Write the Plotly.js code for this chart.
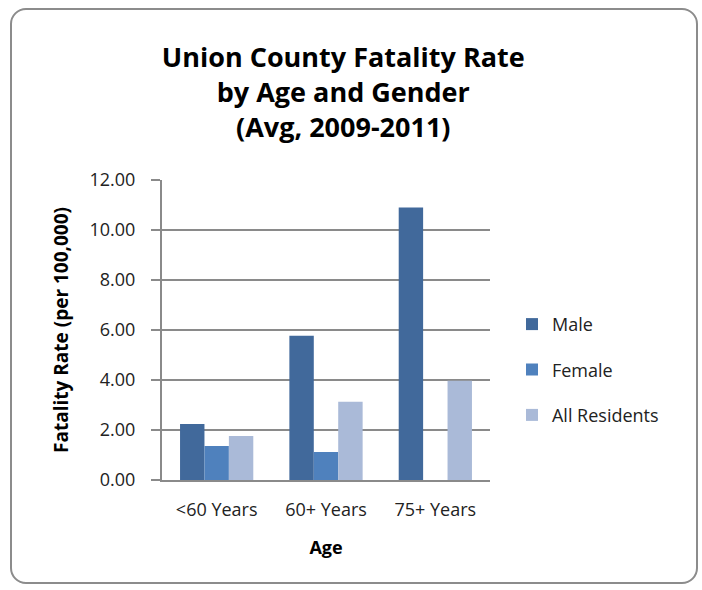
<!DOCTYPE html>
<html>
<head>
<meta charset="utf-8">
<script src="https://cdn.plot.ly/plotly-3.0.1.min.js"></script>
<style>
  html, body { margin: 0; padding: 0; background: #ffffff; }
  #frame { position: absolute; left: 10px; top: 8px; width: 688px; height: 576px;
           border: 2px solid #8c8c8c; border-radius: 16px; box-sizing: border-box; }
  #chart { position: absolute; left: 0; top: 0; width: 702px; height: 590px; }
</style>
</head>
<body>
<div id="frame"></div>
<div id="chart"></div>
<script>
const categories = ["&lt;60 Years", "60+ Years", "75+ Years"];
const maleValues = [2.24, 5.77, 10.90];
const femaleValues = [1.36, 1.12, null];
const allResidentsValues = [1.76, 3.13, 3.97];
const seriesNames = ["Male", "Female", "All Residents"];
const yTickValues = [0, 2, 4, 6, 8, 10, 12];

const colors = ["#41699b", "#4f81bd", "#aabad8"];
const font = "'Open Sans', 'Liberation Sans', sans-serif";

const seriesData = [maleValues, femaleValues, allResidentsValues];
const traces = seriesData.map((vals, i) => ({
  type: "bar",
  x: categories,
  y: vals,
  name: seriesNames[i],
  legendgroup: "g" + i,
  marker: { color: colors[i], line: { width: 0 } },
  hoverinfo: "skip"
}));

const layout = {
  width: 702,
  height: 590,
  paper_bgcolor: "rgba(0,0,0,0)",
  plot_bgcolor: "#ffffff",
  margin: { l: 162, r: 212, t: 180, b: 110 },
  barmode: "group",
  bargap: 0.33,
  bargroupgap: 0,
  title: {
    text: "<b>Union County Fatality Rate<br>by Age and Gender<br>(Avg, 2009-2011)</b>",
    font: { family: font, size: 27, color: "#000000" },
    x: 0.489, xanchor: "center",
    y: 0.886, yanchor: "top"
  },
  xaxis: {
    type: "category",
    tickfont: { family: font, size: 18, color: "#222222" },
    showline: true, linecolor: "#8a8a8a", linewidth: 2,
    ticks: "",
    ticklabelstandoff: 12,
    title: { text: "<b>Age</b>", font: { family: font, size: 18, color: "#000000" }, standoff: 22 }
  },
  yaxis: {
    range: [0, 12],
    tickvals: yTickValues,
    tickformat: ".2f",
    tickfont: { family: font, size: 18, color: "#222222" },
    showgrid: true, gridcolor: "#8a8a8a", gridwidth: 2,
    showline: true, linecolor: "#8a8a8a", linewidth: 2,
    ticks: "outside", ticklen: 9, tickcolor: "#8a8a8a", tickwidth: 2,
    ticklabelstandoff: 12,
    zeroline: false,
    title: { text: "<b>Fatality Rate (per 100,000)</b>", font: { family: font, size: 19, color: "#000000" }, standoff: 16 }
  },
  legend: {
    x: 1.067, xanchor: "left",
    y: 0.367, yanchor: "middle",
    font: { family: font, size: 18, color: "#222222" },
    traceorder: "grouped",
    tracegroupgap: 19,
    bgcolor: "rgba(0,0,0,0)"
  },
  showlegend: true
};

Plotly.newPlot("chart", traces, layout, { displayModeBar: false, staticPlot: true });
</script>
</body>
</html>
